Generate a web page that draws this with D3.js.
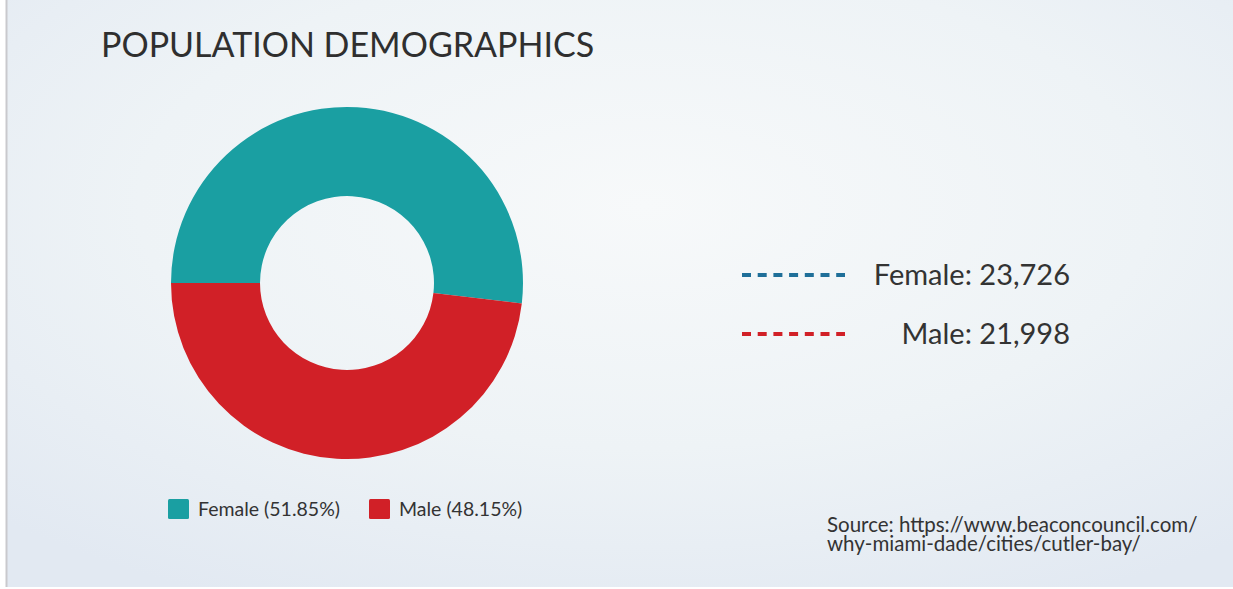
<html>
    <head>
        <title>Population Demographics</title>
        <style>
            body { margin: 0; background: #ffffff; }
            svg { display: block; font-family: Lato, "Open Sans", sans-serif; }
        </style>
    </head>
    <body>
        <svg id="chart" width="1233" height="589"></svg>
        <script src="https://cdn.jsdelivr.net/npm/d3@7"></script>
        <script>
            // data
            const CATEGORIES = ["Female", "Male"];
            const COUNTS = [23726, 21998];
            const SHARES = [51.85, 48.15];
            const COLORS = ["#1a9fa2", "#d12027"];
            const LINE_COLORS = ["#1f6f99", "#d12027"];
            const TITLE = "POPULATION DEMOGRAPHICS";
            const SOURCE_LINES = ["Source: https://www.beaconcouncil.com/", "why-miami-dade/cities/cutler-bay/"];

            const svg = d3.select("#chart");
            const W = 1233, H = 589;

            // background panel
            const defs = svg.append("defs");
            const bg = defs.append("radialGradient").attr("id", "bg")
                .attr("cx", "52%").attr("cy", "35%").attr("r", "75%");
            bg.append("stop").attr("offset", "0").attr("stop-color", "#f7f9fa");
            bg.append("stop").attr("offset", "0.55").attr("stop-color", "#eef3f6");
            bg.append("stop").attr("offset", "1").attr("stop-color", "#e2e9f2");

            svg.append("rect").attr("x", 7).attr("y", 0).attr("width", W - 7).attr("height", 587)
                .attr("fill", "url(#bg)");
            svg.append("line").attr("x1", 6.5).attr("x2", 6.5).attr("y1", 0).attr("y2", 587)
                .attr("stroke", "#c9c9cd").attr("stroke-width", 2);

            svg.append("text").attr("x", 101).attr("y", 57)
                .attr("fill", "#2f2f2f").attr("font-size", 34)
                .text(TITLE);

            // donut
            const cx = 347, cy = 283;
            const pie = d3.pie().sort(null).value(d => d)
                .startAngle(-Math.PI / 2).endAngle(1.5 * Math.PI);
            const arc = d3.arc().innerRadius(87).outerRadius(176);
            const g = svg.append("g").attr("transform", `translate(${cx},${cy})`);
            g.selectAll("path").data(pie(SHARES)).join("path")
                .attr("d", arc)
                .attr("fill", (d, i) => COLORS[i]);

            // bottom legend
            const legendX = d3.scaleOrdinal().domain(CATEGORIES).range([168, 369]);
            const leg = svg.append("g").selectAll("g").data(CATEGORIES).join("g")
                .attr("transform", d => `translate(${legendX(d)},499)`);
            leg.append("rect").attr("width", 21).attr("height", 20).attr("rx", 1.5)
                .attr("fill", (d, i) => COLORS[i]);
            leg.append("text").attr("x", 30).attr("y", 17)
                .attr("font-size", 19.5).attr("fill", "#333")
                .text((d, i) => `${d} (${SHARES[i].toFixed(2)}%)`);

            // right-hand count labels
            const rowY = d3.scalePoint().domain(CATEGORIES).range([275, 334]);
            const fmt = d3.format(",");
            const rows = svg.append("g").selectAll("g").data(CATEGORIES).join("g")
                .attr("transform", d => `translate(0,${rowY(d)})`);
            rows.append("line").attr("x1", 742).attr("x2", 845)
                .attr("stroke", (d, i) => LINE_COLORS[i]).attr("stroke-width", 4)
                .attr("stroke-dasharray", "9,6.7");
            rows.append("text").attr("x", 1070).attr("y", 10)
                .attr("text-anchor", "end").attr("font-size", 29).attr("fill", "#333")
                .text((d, i) => `${d}: ${fmt(COUNTS[i])}`);

            // source, two lines set tight as in the original
            const srcY = d3.scalePoint().domain(SOURCE_LINES).range([532, 551]);
            svg.append("g").selectAll("text").data(SOURCE_LINES).join("text")
                .attr("x", 827).attr("y", d => srcY(d))
                .attr("font-size", 20.5).attr("fill", "#333")
                .text(d => d);
        </script>
    </body>
</html>
